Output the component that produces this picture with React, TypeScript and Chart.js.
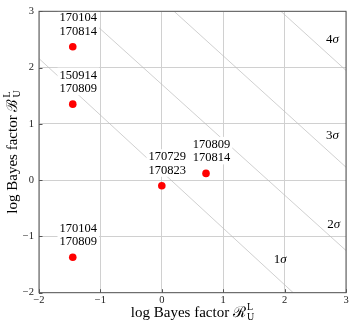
import React, { useEffect, useRef } from "react";
import { Chart, registerables } from "chart.js";

Chart.register(...registerables);

// ---- data ----
const pointX = [-1.45, -1.45, -1.45, 0.0, 0.72];
const pointY = [2.37, 1.35, -1.37, -0.1, 0.12];
const labelTop = ["170104", "150914", "170104", "170729", "170809"];
const labelBottom = ["170814", "170809", "170809", "170823", "170814"];

const sigmaDigits = ["1", "2", "3", "4"];
const sigmaStartX = [-2, -1.32, 0.2, 1.94];
const sigmaStartY = [2.16, 3, 3, 3];
const sigmaEndX = [2.14, 3, 3, 3];
const sigmaEndY = [-2, -1.25, 0.23, 1.95];
const sigmaLabelX = [1.93, 2.8, 2.78, 2.78];
const sigmaLabelY = [-1.42, -0.79, 0.79, 2.5];

const tickValues = [-2, -1, 0, 1, 2, 3];
const axisMin = -2;
const axisMax = 3;
const titleText = "log Bayes factor ";
const xSymbol = "\u211B"; // ℛ
const ySymbol = "\u212C"; // ℬ
const supText = "L";
const subText = "U";

const SERIF = '"Liberation Serif", "DejaVu Serif", serif';

function drawTitle(ctx: CanvasRenderingContext2D, symbol: string) {
  ctx.font = `15px ${SERIF}`;
  const w1 = ctx.measureText(titleText).width;
  ctx.font = `15px ${SERIF}`;
  const w2 = ctx.measureText(symbol).width;
  ctx.font = `10px ${SERIF}`;
  const w3 = Math.max(ctx.measureText(supText).width, ctx.measureText(subText).width);
  const total = w1 + w2 + 1 + w3;
  let x = -total / 2;
  ctx.textAlign = "left";
  ctx.textBaseline = "alphabetic";
  ctx.fillStyle = "#000";
  ctx.font = `15px ${SERIF}`;
  ctx.fillText(titleText, x, 0);
  x += w1;
  ctx.fillText(symbol, x, 0);
  x += w2 + 1;
  ctx.font = `10px ${SERIF}`;
  ctx.fillText(supText, x, -7);
  ctx.fillText(subText, x, 3);
}

const overlayPlugin = {
  id: "overlay",
  afterDatasetsDraw(chart: any) {
    const ctx: CanvasRenderingContext2D = chart.ctx;
    const xs = chart.scales.x;
    const ys = chart.scales.y;
    ctx.save();
    ctx.textBaseline = "middle";
    for (let i = 0; i < sigmaDigits.length; i++) {
      const cx = xs.getPixelForValue(sigmaLabelX[i]);
      const cy = ys.getPixelForValue(sigmaLabelY[i]);
      ctx.font = `13px ${SERIF}`;
      const wd = ctx.measureText(sigmaDigits[i]).width;
      ctx.font = `italic 13px ${SERIF}`;
      const ws = ctx.measureText("\u03C3").width;
      const x0 = cx - (wd + ws) / 2;
      ctx.fillStyle = "#000";
      ctx.textAlign = "left";
      ctx.font = `13px ${SERIF}`;
      ctx.fillText(sigmaDigits[i], x0, cy);
      ctx.font = `italic 13px ${SERIF}`;
      ctx.fillText("\u03C3", x0 + wd, cy);
    }
    ctx.font = `12.5px ${SERIF}`;
    ctx.textAlign = "center";
    ctx.textBaseline = "alphabetic";
    for (let i = 0; i < pointX.length; i++) {
      const px = xs.getPixelForValue(pointX[i]) + 5.5;
      const py = ys.getPixelForValue(pointY[i]);
      const b2 = py - 12;
      const b1 = b2 - 13.5;
      const w = Math.max(ctx.measureText(labelTop[i]).width, ctx.measureText(labelBottom[i]).width);
      ctx.fillStyle = "#fff";
      ctx.fillRect(px - w / 2 - 2, b1 - 11, w + 4, b2 - b1 + 14);
      ctx.fillStyle = "#000";
      ctx.fillText(labelTop[i], px, b1);
      ctx.fillText(labelBottom[i], px, b2);
    }
    ctx.restore();
  },
  afterDraw(chart: any) {
    const ctx: CanvasRenderingContext2D = chart.ctx;
    const a = chart.chartArea;
    const xs = chart.scales.x;
    const ys = chart.scales.y;
    ctx.save();
    ctx.strokeStyle = "#555";
    ctx.lineWidth = 1;
    ctx.strokeRect(a.left, a.top, a.right - a.left, a.bottom - a.top);
    ctx.beginPath();
    for (const v of tickValues) {
      const x = Math.round(xs.getPixelForValue(v)) + 0.5;
      ctx.moveTo(x, a.bottom);
      ctx.lineTo(x, a.bottom - 3.5);
      const y = Math.round(ys.getPixelForValue(v)) + 0.5;
      ctx.moveTo(a.left, y);
      ctx.lineTo(a.left + 3.5, y);
    }
    ctx.stroke();
    ctx.save();
    ctx.translate((a.left + a.right) / 2, 317);
    drawTitle(ctx, xSymbol);
    ctx.restore();
    ctx.save();
    ctx.translate(17, (a.top + a.bottom) / 2);
    ctx.rotate(-Math.PI / 2);
    drawTitle(ctx, ySymbol);
    ctx.restore();
    ctx.restore();
  },
};

export default function App() {
  const ref = useRef<HTMLCanvasElement>(null);
  useEffect(() => {
    document.body.style.margin = "0";
    const canvas = ref.current!;
    const sigmaSets = sigmaDigits.map((_, i) => ({
      type: "scatter" as const,
      data: [
        { x: sigmaStartX[i], y: sigmaStartY[i] },
        { x: sigmaEndX[i], y: sigmaEndY[i] },
      ],
      showLine: true,
      borderColor: "#bbbbbb",
      borderWidth: 0.7,
      pointRadius: 0,
    }));
    const chart = new Chart(canvas, {
      type: "scatter",
      data: {
        datasets: [
          {
            data: pointX.map((x, i) => ({ x, y: pointY[i] })),
            backgroundColor: "#ff0000",
            borderColor: "#ff0000",
            borderWidth: 0,
            pointRadius: 3.8,
          },
          ...sigmaSets,
        ],
      },
      options: {
        animation: false,
        responsive: false,
        devicePixelRatio: 1,
        layout: { padding: { top: 2.7, right: 2.7, left: 0, bottom: 0 } },
        plugins: { legend: { display: false }, tooltip: { enabled: false } },
        scales: {
          x: {
            type: "linear",
            min: axisMin,
            max: axisMax,
            afterFit: (s: any) => {
              s.height = 29.3;
            },
            afterBuildTicks: (s: any) => {
              s.ticks = tickValues.map((v) => ({ value: v }));
            },
            grid: { color: "#d0d0d0", lineWidth: 1, drawTicks: false },
            border: { display: false },
            ticks: {
              padding: 1,
              color: "#222",
              font: { family: SERIF, size: 10.5 },
              callback: (v: any) => String(v).replace("-", "\u2212"),
            },
          },
          y: {
            type: "linear",
            min: axisMin,
            max: axisMax,
            afterFit: (s: any) => {
              s.width = 39;
            },
            afterBuildTicks: (s: any) => {
              s.ticks = tickValues.map((v) => ({ value: v }));
            },
            grid: { color: "#d0d0d0", lineWidth: 1, drawTicks: false },
            border: { display: false },
            ticks: {
              padding: 5,
              color: "#222",
              font: { family: SERIF, size: 10.5 },
              callback: (v: any) => String(v).replace("-", "\u2212"),
            },
          },
        },
      },
      plugins: [overlayPlugin],
    });
    return () => chart.destroy();
  }, []);
  return <canvas ref={ref} width={350} height={322} style={{ display: "block" }} />;
}
